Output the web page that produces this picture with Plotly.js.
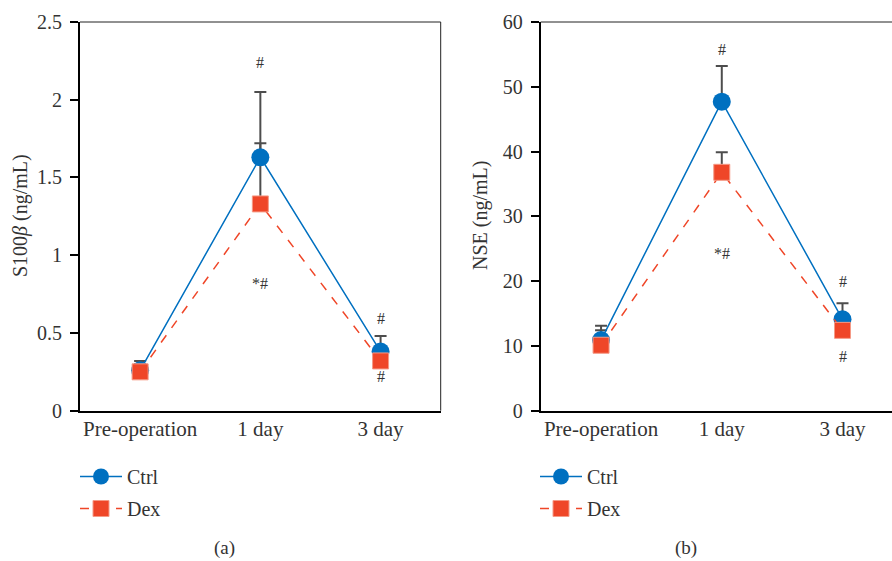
<!DOCTYPE html>
<html>
<head>
<meta charset="utf-8">
<script src="https://cdn.plot.ly/plotly-3.0.1.min.js"></script>
<style>html,body{margin:0;padding:0;background:#fff;}</style>
</head>
<body>
<div id="chart" style="width:892px;height:561px;"></div>
<script>
// Categories
const categories = ["Pre-operation", "1 day", "3 day"];

// Panel (a): S100β (ng/mL)
const s100Ctrl = [0.26, 1.63, 0.38];
const s100CtrlErr = [0.06, 0.42, 0.10];
const s100Dex = [0.25, 1.33, 0.32];
const s100DexErr = [0.05, 0.39, 0.04];

// Panel (b): NSE (ng/mL)
const nseCtrl = [10.9, 47.7, 14.1];
const nseCtrlErr = [2.2, 5.5, 2.5];
const nseDex = [10.1, 36.8, 12.4];
const nseDexErr = [2.3, 3.1, 1.5];

// Significance marks: [category, y, text]
const s100Marks = [["1 day", 2.24, "#"], ["1 day", 0.82, "*#"], ["3 day", 0.595, "#"], ["3 day", 0.22, "#"]];
const nseMarks = [["1 day", 55.7, "#"], ["1 day", 24.3, "*#"], ["3 day", 20.0, "#"], ["3 day", 8.3, "#"]];

const blue = "#0070c0";
const red = "#ef4628";
const errColor = "#4d4d4d";
const font = "'Liberation Serif', 'Times New Roman', serif";
const zeros = [0, 0, 0];

function errTrace(y, err, xa, ya) {
  return {x: categories, y: y, xaxis: xa, yaxis: ya, mode: "markers", type: "scatter",
    marker: {color: "rgba(0,0,0,0)", size: 1}, showlegend: false, hoverinfo: "skip",
    error_y: {type: "data", symmetric: false, array: err, arrayminus: zeros, color: errColor, thickness: 2, width: 6}};
}
function ctrlTrace(y, err, xa, ya, lg) {
  return {x: categories, y: y, xaxis: xa, yaxis: ya, mode: "lines+markers", type: "scatter", name: "Ctrl",
    legend: lg, legendgroup: lg + "c",
    line: {color: blue, width: 1.5}, marker: {color: blue, size: 18, symbol: "circle"},
    error_y: {type: "data", symmetric: false, array: err, arrayminus: zeros, color: errColor, thickness: 2, width: 6}};
}
function dexTrace(y, xa, ya, lg) {
  return {x: categories, y: y, xaxis: xa, yaxis: ya, mode: "lines+markers", type: "scatter", name: "Dex",
    legend: lg, legendgroup: lg + "d",
    line: {color: red, width: 1.5, dash: "dash"}, marker: {color: red, size: 16, symbol: "square", line: {color: "#f59a86", width: 1}}};
}

const data = [
  errTrace(s100Dex, s100DexErr, "x", "y"),
  ctrlTrace(s100Ctrl, s100CtrlErr, "x", "y", "legend"),
  dexTrace(s100Dex, "x", "y", "legend"),
  errTrace(nseDex, nseDexErr, "x2", "y2"),
  ctrlTrace(nseCtrl, nseCtrlErr, "x2", "y2", "legend2"),
  dexTrace(nseDex, "x2", "y2", "legend2")
];

const W = 892, H = 561;
const domTop = 1 - 22 / H, domBot = 1 - 410.7 / H;

function xax(domain, range, anchor) {
  return {domain: domain, range: range, anchor: anchor, type: "category", showgrid: false, zeroline: false,
    showline: true, linecolor: "#000", linewidth: 2, ticks: "", ticklabelstandoff: -2,
    tickfont: {family: font, size: 21, color: "#333"}, fixedrange: true};
}
function yax(range, dtick, anchor) {
  return {domain: [domBot, domTop], range: range, dtick: dtick, anchor: anchor, showgrid: false, zeroline: false,
    showline: true, linecolor: "#000", linewidth: 2, ticks: "outside", ticklen: 8, tickwidth: 2, tickcolor: "#000",
    tickfont: {family: font, size: 20, color: "#333"}, ticklabelstandoff: 4, fixedrange: true};
}

const annotations = [];
s100Marks.forEach(m => annotations.push({x: m[0], y: m[1], xref: "x", yref: "y", text: m[2], showarrow: false,
  font: {family: font, size: 16, color: "#333"}}));
nseMarks.forEach(m => annotations.push({x: m[0], y: m[1], xref: "x2", yref: "y2", text: m[2], showarrow: false,
  font: {family: font, size: 16, color: "#333"}}));
annotations.push({x: 20 / W, y: 1 - 216 / H, xref: "paper", yref: "paper", xanchor: "center", yanchor: "middle",
  text: "S100<i>β</i> (ng/mL)", textangle: -90, showarrow: false, font: {family: font, size: 20, color: "#333"}});
annotations.push({x: 480 / W, y: 1 - 216 / H, xref: "paper", yref: "paper", xanchor: "center", yanchor: "middle",
  text: "NSE (ng/mL)", textangle: -90, showarrow: false, font: {family: font, size: 20, color: "#333"}});
annotations.push({x: 224 / W, y: 1 - 548 / H, xref: "paper", yref: "paper", xanchor: "center", yanchor: "middle",
  text: "(a)", showarrow: false, font: {family: font, size: 19, color: "#333"}});
annotations.push({x: 686 / W, y: 1 - 548 / H, xref: "paper", yref: "paper", xanchor: "center", yanchor: "middle",
  text: "(b)", showarrow: false, font: {family: font, size: 19, color: "#333"}});

const shapes = [
  {type: "line", xref: "x domain", yref: "y domain", x0: 0, x1: 1, y0: 1, y1: 1, line: {color: "#222", width: 1}},
  {type: "line", xref: "x domain", yref: "y domain", x0: 1, x1: 1, y0: 0, y1: 1, line: {color: "#222", width: 1}},
  {type: "line", xref: "x2 domain", yref: "y2 domain", x0: 0, x1: 1, y0: 1, y1: 1, line: {color: "#222", width: 1}}
];

const legendBase = {font: {family: font, size: 20, color: "#333"}, bgcolor: "rgba(0,0,0,0)", tracegroupgap: 3,
  itemwidth: 42, xanchor: "left", yanchor: "top", orientation: "v"};

const layout = {
  width: W, height: H, margin: {l: 0, r: 0, t: 0, b: 0}, paper_bgcolor: "#fff", plot_bgcolor: "#fff",
  font: {family: font, color: "#333"},
  xaxis: xax([80 / W, 440.7 / W], [-0.5, 2.5], "y"),
  yaxis: yax([0, 2.5], 0.5, "x"),
  xaxis2: xax([540.7 / W, 1], [-0.5, 2.41], "y2"),
  yaxis2: yax([0, 60], 10, "x2"),
  legend: Object.assign({}, legendBase, {x: 75 / W, y: 1 - 457 / H}),
  legend2: Object.assign({}, legendBase, {x: 535 / W, y: 1 - 457 / H}),
  annotations: annotations,
  shapes: shapes,
  hovermode: false
};

Plotly.newPlot("chart", data, layout, {displayModeBar: false, staticPlot: true});
</script>
</body>
</html>
